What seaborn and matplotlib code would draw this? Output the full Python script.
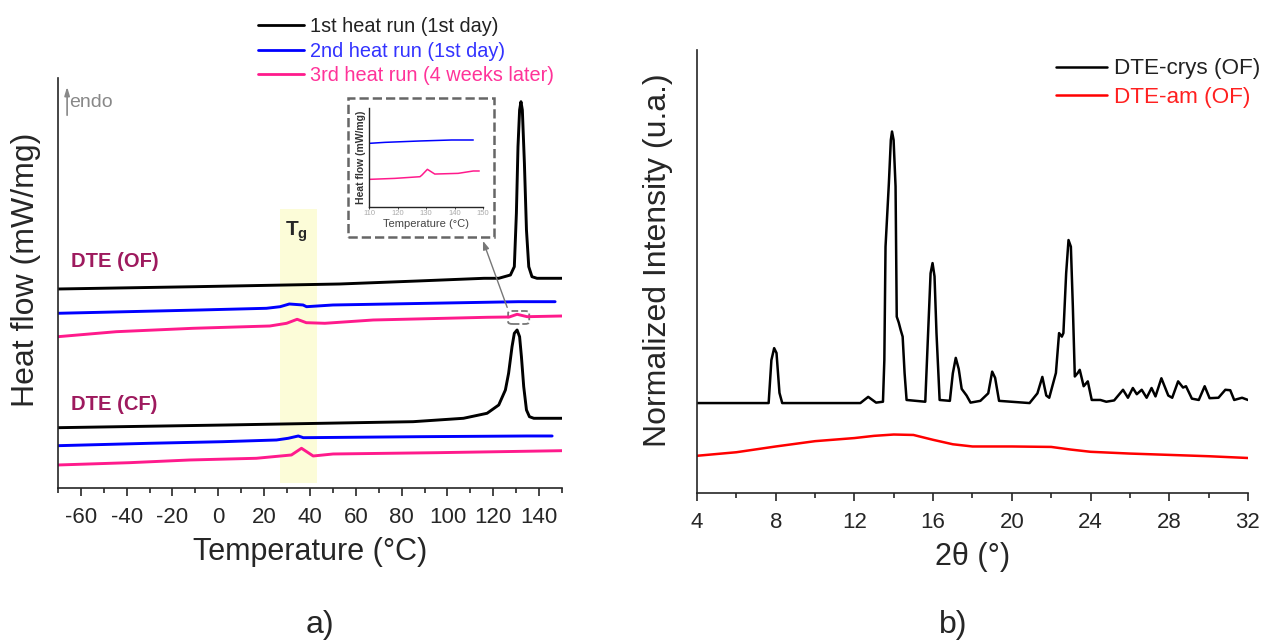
import numpy as np
import matplotlib
matplotlib.use("Agg")
import matplotlib.pyplot as plt
import matplotlib.patches as patches
from matplotlib.ticker import MultipleLocator
import seaborn as sns

# ==================== DATA: DSC (panel a) ====================
# temperature in degC, heat flow in arbitrary stacked units
of_run1_T = [-70, -10, 53, 87, 116, 122.4, 127.5, 129.2, 130.1, 130.8, 131.5, 132.1, 132.7,
             133.6, 134.5, 135.5, 136.9, 139.1, 150]
of_run1_hf = [199, 201.3, 204, 207, 209.7, 209.7, 213, 221.3, 274.7, 341.3, 378, 386.3, 378,
              324.7, 258, 221.3, 211.3, 209.7, 209.7]

of_run2_T = [-70, -8, 21, 27, 31, 37, 38.5, 50, 92, 131, 147]
of_run2_hf = [174.7, 178, 179.7, 181.3, 184, 183, 181.3, 183, 184.7, 186.3, 186.3]

of_run3_T = [-70, -44.5, -11, 22.5, 29.8, 34.4, 38.4, 46.5, 67.6, 117.3, 127, 130.4, 134.8, 150]
of_run3_hf = [151.3, 156.3, 159.7, 162, 164.7, 168.7, 165.3, 164.7, 168, 170.7, 171, 173.7, 171.3, 172]

cf_run1_T = [-70, 3.5, 85, 107, 117.3, 122.4, 125.3, 126.7, 128.2, 129.2, 130.4, 131.5, 132.3,
             133.3, 134.5, 135.8, 137.7, 150]
cf_run1_hf = [60.3, 63, 66.3, 69.7, 74.7, 83, 98, 114.7, 141.3, 154.7, 158, 151.3, 131.3,
              101.3, 78, 71.3, 69.7, 69.7]

cf_run2_T = [-70, -30, 2, 25.4, 30.5, 34.9, 37.1, 88, 134.8, 145.7]
cf_run2_hf = [42.3, 44.7, 46.3, 48, 49.7, 52, 50.3, 51.3, 52, 52]

cf_run3_T = [-70, -38.8, -12.5, 16.6, 31.9, 36.3, 41.4, 50.1, 95.4, 150]
cf_run3_hf = [23, 25.3, 28, 29.7, 33, 39.7, 32, 34, 35.3, 37.3]

# inset (110-150 degC zoom)
inset_run2_T = [110, 115.5, 127.8, 138.9, 146.5]
inset_run2_hf = [64.4, 65.4, 66.8, 67.8, 67.8]
inset_run3_T = [110, 119, 127.8, 128.5, 130.4, 133, 141.2, 146.5, 148.6]
inset_run3_hf = [27.8, 28.8, 30.5, 32.2, 38, 33.2, 33.9, 36.3, 36.3]

run_labels = ["1st heat run (1st day)", "2nd heat run (1st day)", "3rd heat run (4 weeks later)"]
sample_labels = ["DTE (OF)", "DTE (CF)"]

# ==================== DATA: XRD (panel b) ====================
xrd_2theta = [4.0, 7.64, 7.78, 7.92, 8.04, 8.19, 8.33, 12.3, 12.7, 13.1, 13.45, 13.52, 13.58,
              13.75, 13.85, 13.91, 13.99, 14.09, 14.15, 14.25, 14.35, 14.45, 14.55, 14.65,
              15.6, 15.73, 15.87, 15.97, 16.07, 16.17, 16.33, 16.85, 17.0, 17.15, 17.3, 17.45,
              17.7, 17.9, 18.4, 18.8, 19.0, 19.15, 19.35, 20.9, 21.3, 21.55, 21.75, 21.9,
              22.24, 22.4, 22.54, 22.62, 22.76, 22.88, 23.0, 23.1, 23.2, 23.35, 23.45, 23.65,
              23.86, 24.06, 24.5, 24.8, 25.2, 25.65, 25.9, 26.15, 26.35, 26.6, 26.85, 27.1,
              27.3, 27.6, 27.95, 28.15, 28.45, 28.7, 28.85, 29.15, 29.5, 29.8, 30.05, 30.5,
              30.85, 31.1, 31.3, 31.7, 32.0]
xrd_crys = [20.3, 20.3, 30, 32.7, 31.6, 22.6, 20.3, 20.3, 21.7, 20.4, 20.6, 30, 55.6,
            69.9, 79.7, 81.6, 79.7, 69.2, 39.8, 38.5, 36.8, 35.3, 27, 21,
            20.6, 34.6, 49.6, 51.9, 48.9, 36.1, 21, 20.8, 27, 30.5, 28, 23.5,
            22, 20.4, 20.8, 22.5, 27.4, 26, 20.8, 20.3, 22.5, 26.2, 22, 21.5,
            27.1, 36.1, 35.3, 36.1, 49.6, 57.1, 55.6, 42.1, 26.3, 27.1, 27.8, 24.1,
            25.2, 21, 21, 20.6, 20.9, 23.3, 21.5, 23.7, 22.3, 23.3, 21.5, 23.7,
            21.8, 25.9, 22, 21.5, 25.2, 23.8, 24.1, 21.3, 21, 24.1, 21.4, 21.5,
            23.3, 23.2, 21, 21.5, 21]
xrd_am_2theta = [4, 6, 8, 10, 12, 13, 14, 15, 16, 17, 18, 20, 22, 23, 24, 26, 28, 30, 32]
xrd_am = [8.4, 9.2, 10.5, 11.7, 12.4, 12.9, 13.2, 13.1, 12.0, 11.0, 10.5, 10.5, 10.4,
          9.8, 9.3, 8.9, 8.6, 8.3, 7.9]
xrd_labels = ["DTE-crys (OF)", "DTE-am (OF)"]

# ==================== STYLE ====================
sns.set_style("ticks")
plt.rcParams["font.family"] = ["Liberation Sans", "DejaVu Sans"]
plt.rcParams["mathtext.fontset"] = "custom"
plt.rcParams["mathtext.rm"] = "Liberation Sans"
plt.rcParams["mathtext.bf"] = "Liberation Sans:bold"
plt.rcParams["axes.unicode_minus"] = False

BLACK = "#000000"
BLUE = "#0000ff"
PINK = "#ff1a8c"
RED = "#ff0000"
LABEL_COL = "#9e1a5e"

fig = plt.figure(figsize=(12.68, 6.42), dpi=100)
fig.patch.set_facecolor("white")

# ==================== PANEL a: DSC ====================
ax = fig.add_axes([0.0457, 0.2399, 0.3975, 0.6386])
ax.axvspan(27, 43, ymin=5 / 410, ymax=279 / 410, color="#fcfcd8", lw=0, zorder=0)

for T, hf, col in [(of_run1_T, of_run1_hf, BLACK), (of_run2_T, of_run2_hf, BLUE),
                   (of_run3_T, of_run3_hf, PINK)]:
    sns.lineplot(x=T, y=hf, ax=ax, color=col, lw=2.1, sort=False)
for T, hf, col in [(cf_run1_T, cf_run1_hf, BLACK), (cf_run2_T, cf_run2_hf, BLUE),
                   (cf_run3_T, cf_run3_hf, PINK)]:
    sns.lineplot(x=T, y=hf, ax=ax, color=col, lw=2.1, sort=False)

ax.set_xlim(-70, 150)
ax.set_ylim(0, 410)
ax.set_yticks([])
ax.xaxis.set_major_locator(MultipleLocator(20))
ax.xaxis.set_minor_locator(MultipleLocator(10))
ax.tick_params(axis="x", which="major", length=6, width=1.2, labelsize=16, pad=8)
ax.tick_params(axis="x", which="minor", length=3.5, width=1.2)
for s in ["top", "right"]:
    ax.spines[s].set_visible(False)
for s in ["left", "bottom"]:
    ax.spines[s].set_linewidth(1.2)
ax.set_xlabel("Temperature (°C)", fontsize=22, labelpad=6)
ax.set_ylabel("Heat flow (mW/mg)", fontsize=23)
ax.yaxis.set_label_coords(-0.034, 0.532)

ax.text(-64.4, 226, sample_labels[0], color=LABEL_COL, fontsize=14.5, fontweight="bold", va="center")
ax.text(-64.4, 83, sample_labels[1], color=LABEL_COL, fontsize=14.5, fontweight="bold", va="center")
ax.text(34.2, 256, r"$\mathbf{T}_{\mathbf{g}}$", fontsize=15, ha="center", va="center")

# endo arrow
ax.annotate("", xy=(-66, 404), xytext=(-66, 370),
            arrowprops=dict(arrowstyle="-|>,head_length=0.5,head_width=0.15", color="#888888", lw=1.2))
ax.text(-65.2, 385.5, "endo", color="#888888", fontsize=14, va="center")

# small dashed box around 3rd-run bump and arrow to inset
ax.add_patch(patches.FancyBboxPatch((126.5, 164), 9.2, 13, boxstyle="round,pad=0,rounding_size=2",
                                    fill=False, ls="--", ec="#777777", lw=1.3))
ax.annotate("", xy=(115.1, 249.7), xytext=(126.5, 178),
            arrowprops=dict(arrowstyle="-|>,head_length=0.5,head_width=0.18", color="#777777", lw=1.0))

leg_handles = [plt.Line2D([], [], color=c, lw=2) for c in [BLACK, BLUE, PINK]]
ax.legend(leg_handles, run_labels, loc="upper left", bbox_to_anchor=(0.2035, 0.973),
          bbox_transform=fig.transFigure, frameon=False, fontsize=14.3, handlelength=2.3,
          handletextpad=0.3, labelspacing=0.27, borderpad=0, borderaxespad=0,
          labelcolor=["#222222", "#3333ff", "#ff3399"])

# inset
fig.add_artist(patches.Rectangle((0.2747, 0.6313), 0.1149, 0.2156, transform=fig.transFigure,
                                 fill=False, ls="--", ec="#666666", lw=1.8))
axin = fig.add_axes([0.2912, 0.678, 0.0899, 0.1533])
sns.lineplot(x=inset_run2_T, y=inset_run2_hf, ax=axin, color=BLUE, lw=1.1, sort=False)
sns.lineplot(x=inset_run3_T, y=inset_run3_hf, ax=axin, color=PINK, lw=1.1, sort=False)
axin.set_xlim(110, 150)
axin.set_ylim(0, 100)
axin.set_yticks([])
axin.set_xticks([110, 120, 130, 140, 150])
axin.tick_params(axis="x", length=1.5, width=0.6, labelsize=5.5, labelcolor="#aaaaaa", pad=1)
for s in ["top", "right"]:
    axin.spines[s].set_visible(False)
for s in ["left", "bottom"]:
    axin.spines[s].set_linewidth(1.0)
axin.set_xlabel("Temperature (°C)", fontsize=8, color="#444444", labelpad=1)
axin.set_ylabel("Heat flow (mW/mg)", fontsize=7.5, fontweight="bold", color="#333333", labelpad=2)
axin.set_facecolor("none")

# ==================== PANEL b: XRD ====================
bx = fig.add_axes([0.5497, 0.2321, 0.4345, 0.690])
sns.lineplot(x=xrd_2theta, y=xrd_crys, ax=bx, color=BLACK, lw=1.8, sort=False, label=xrd_labels[0])
sns.lineplot(x=xrd_am_2theta, y=xrd_am, ax=bx, color=RED, lw=1.8, sort=False, label=xrd_labels[1])
bx.set_xlim(4, 32)
bx.set_ylim(0, 100)
bx.set_yticks([])
bx.xaxis.set_major_locator(MultipleLocator(4))
bx.xaxis.set_minor_locator(MultipleLocator(2))
bx.tick_params(axis="x", which="major", length=6, width=1.2, labelsize=16, pad=8)
bx.tick_params(axis="x", which="minor", length=3.5, width=1.2)
for s in ["top", "right"]:
    bx.spines[s].set_visible(False)
for s in ["left", "bottom"]:
    bx.spines[s].set_linewidth(1.2)
bx.set_xlabel("2θ (°)", fontsize=22, labelpad=6)
bx.set_ylabel("Normalized Intensity (u.a.)", fontsize=23)
bx.yaxis.set_label_coords(-0.044, 0.526)
bx.legend(loc="upper left", bbox_to_anchor=(0.8326, 0.909), bbox_transform=fig.transFigure,
          frameon=False, fontsize=16.2, handlelength=2.3, handletextpad=0.3, labelspacing=0.32,
          borderpad=0, borderaxespad=0, labelcolor=["#222222", "#ff2020"])

fig.text(320 / 1268, 1 - 625 / 642, "a)", fontsize=23, ha="center", va="center")
fig.text(953 / 1268, 1 - 625 / 642, "b)", fontsize=23, ha="center", va="center")

plt.savefig("out.png", dpi=100)
